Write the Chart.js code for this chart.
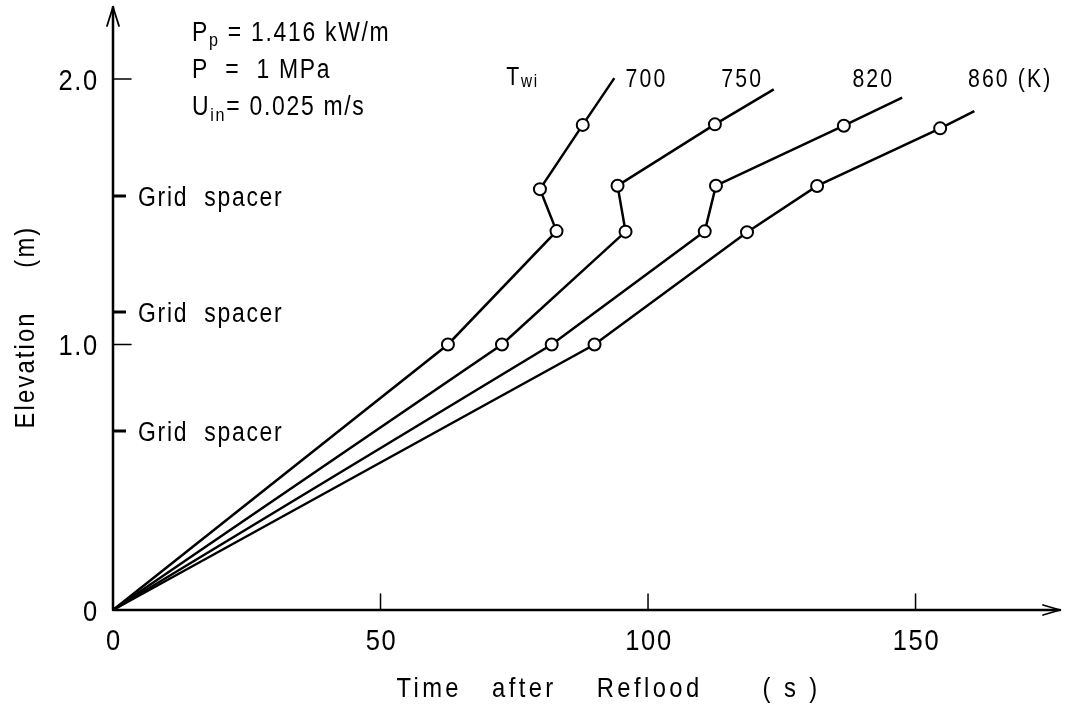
<!DOCTYPE html>
<html><head><meta charset="utf-8">
<script src="https://cdn.jsdelivr.net/npm/chart.js@4.4.0/dist/chart.umd.min.js"></script>
<style>html,body{margin:0;padding:0;background:#fff;}#wrap{width:1076px;height:714px;}</style>
</head><body><div id="wrap"><canvas id="c" width="1076" height="714"></canvas></div>
<script>
// ---- data ----
const seriesNames = ['700', '750', '820', '860 (K)'];
const time700 = [0, 62.6, 82.9, 79.8, 87.8, 93.7];
const elev700 = [0, 1.0, 1.427, 1.585, 1.827, 2.003];
const time750 = [0, 72.7, 95.8, 94.3, 112.5, 123.5];
const elev750 = [0, 1.0, 1.425, 1.598, 1.829, 1.961];
const time820 = [0, 82.0, 110.6, 112.7, 136.6, 147.5];
const elev820 = [0, 1.0, 1.426, 1.598, 1.824, 1.930];
const time860 = [0, 90.0, 118.5, 131.6, 154.6, 161.0];
const elev860 = [0, 1.0, 1.423, 1.597, 1.814, 1.879];
const measuredPoint = [false, true, true, true, true, false];
const xTickValues = [0, 50, 100, 150];
const xTickLabels = ['0', '50', '100', '150'];
const yTickValues = [0, 1, 2];
const yTickLabels = ['0', '1.0', '2.0'];
const gridSpacerElev = [0.674, 1.122, 1.559];
const gridSpacerText = 'Grid  spacer';
const xTitleWords = 'Time   after    Reflood      ( s )';
const yTitleWords = 'Elevation     (m)';
// series label anchors (time, elevation) in data units
const labelTime = [95.8, 113.7, 138.2, 159.8];
const labelElev = [1.97, 1.97, 1.97, 1.97];

const FONT = '"Liberation Sans", Arial, sans-serif';

function measureRuns(ctx, runs, sx, ls) {
  let w = 0;
  for (const r of runs) {
    ctx.save();
    ctx.font = r.size + 'px ' + FONT;
    ctx.letterSpacing = ls + 'px';
    w += ctx.measureText(r.t).width * sx;
    ctx.restore();
  }
  return w;
}
function drawRuns(ctx, runs, x, y, o) {
  const sx = o.sx ?? 0.85, ls = o.ls ?? 2, align = o.align || 'left';
  const w = measureRuns(ctx, runs, sx, ls);
  let cx = align === 'left' ? x : align === 'right' ? x - w : x - w / 2;
  for (const r of runs) {
    ctx.save();
    ctx.font = r.size + 'px ' + FONT;
    ctx.letterSpacing = ls + 'px';
    ctx.fillStyle = '#000';
    ctx.textAlign = 'left';
    ctx.textBaseline = 'alphabetic';
    ctx.translate(cx, y + (r.dy || 0));
    ctx.scale(sx, 1);
    ctx.fillText(r.t, 0, 0);
    const rw = ctx.measureText(r.t).width;
    ctx.restore();
    cx += rw * sx;
  }
}

const axesPlugin = {
  id: 'axesPlugin',
  beforeDatasetsDraw(chart) {
    const {ctx, chartArea: a, scales: {x, y}} = chart;
    const x0 = x.getPixelForValue(0), y0 = y.getPixelForValue(0);
    ctx.save();
    ctx.strokeStyle = '#000';
    ctx.lineCap = 'round';
    ctx.lineJoin = 'round';
    ctx.lineWidth = 2.5;
    ctx.beginPath();
    ctx.moveTo(x0, y0); ctx.lineTo(x0, a.top);
    ctx.moveTo(x0, y0); ctx.lineTo(a.right, y0);
    ctx.stroke();
    ctx.lineWidth = 1.8;
    ctx.beginPath();
    ctx.moveTo(x0 - 6, a.top + 19); ctx.lineTo(x0, a.top); ctx.lineTo(x0 + 6, a.top + 19);
    ctx.moveTo(a.right - 17, y0 - 5); ctx.lineTo(a.right, y0); ctx.lineTo(a.right - 17, y0 + 5);
    ctx.stroke();
    ctx.lineWidth = 1.5;
    ctx.beginPath();
    xTickValues.forEach(v => { if (v === 0) return; const px = x.getPixelForValue(v); ctx.moveTo(px, y0); ctx.lineTo(px, y0 - 16); });
    yTickValues.forEach(v => { if (v === 0) return; const py = y.getPixelForValue(v); ctx.moveTo(x0, py); ctx.lineTo(x0 + 18, py); });
    ctx.stroke();
    ctx.lineWidth = 3;
    ctx.lineCap = 'butt';
    ctx.beginPath();
    gridSpacerElev.forEach(v => { const py = y.getPixelForValue(v); ctx.moveTo(x0, py); ctx.lineTo(x0 + 13, py); });
    ctx.stroke();
    ctx.restore();
  },
  afterDraw(chart) {
    const {ctx, chartArea: a, scales: {x, y}} = chart;
    const x0 = x.getPixelForValue(0), y0 = y.getPixelForValue(0);
    xTickValues.forEach((v, i) => {
      drawRuns(ctx, [{t: xTickLabels[i], size: 30}], x.getPixelForValue(v) + 1, y0 + 40, {align: 'center', sx: 0.85, ls: 2});
    });
    yTickValues.forEach((v, i) => {
      drawRuns(ctx, [{t: yTickLabels[i], size: 30}], x0 - 14, y.getPixelForValue(v) + 11, {align: 'right', sx: 0.85, ls: 2});
    });
    gridSpacerElev.forEach(v => {
      drawRuns(ctx, [{t: gridSpacerText, size: 27}], x0 + 25, y.getPixelForValue(v) + 10, {sx: 0.85, ls: 2});
    });
    const bx = x0 + 79;
    drawRuns(ctx, [{t: 'P', size: 27}, {t: 'p', size: 19, dy: 5}, {t: ' = 1.416 kW/m', size: 27}], bx, 41, {sx: 0.85, ls: 2});
    drawRuns(ctx, [{t: 'P  =  1 MPa', size: 27}], bx, 78, {sx: 0.85, ls: 2});
    drawRuns(ctx, [{t: 'U', size: 27}, {t: 'in', size: 19, dy: 6}, {t: '= 0.025 m/s', size: 27}], bx, 115, {sx: 0.85, ls: 2});
    drawRuns(ctx, [{t: 'T', size: 25}, {t: 'wi', size: 18, dy: 2}], x.getPixelForValue(73.5), y.getPixelForValue(labelElev[0]) - 2, {sx: 0.85, ls: 2});
    seriesNames.forEach((s, i) => {
      drawRuns(ctx, [{t: s, size: 25}], x.getPixelForValue(labelTime[i]), y.getPixelForValue(labelElev[i]), {sx: 0.85, ls: 2.5});
    });
    drawRuns(ctx, [{t: xTitleWords, size: 28}], (a.left + a.right) / 2 + 22, 697, {align: 'center', sx: 0.85, ls: 4});
    ctx.save();
    ctx.translate(24, 327);
    ctx.rotate(-Math.PI / 2);
    drawRuns(ctx, [{t: yTitleWords, size: 28}], 0, 10, {align: 'center', sx: 0.85, ls: 2.5});
    ctx.restore();
  }
};

function mk(times, elevs) {
  return {
    data: times.map((t, i) => ({x: t, y: elevs[i]})),
    borderColor: '#000',
    borderWidth: 2.5,
    tension: 0,
    fill: false,
    clip: false,
    pointRadius: measuredPoint.map(m => m ? 6 : 0),
    pointHoverRadius: measuredPoint.map(m => m ? 6 : 0),
    pointBackgroundColor: '#fff',
    pointBorderColor: '#000',
    pointBorderWidth: 2
  };
}

new Chart(document.getElementById('c'), {
  type: 'line',
  data: {datasets: [mk(time700, elev700), mk(time750, elev750), mk(time820, elev820), mk(time860, elev860)]},
  options: {
    responsive: false,
    animation: false,
    devicePixelRatio: 1,
    layout: {padding: {left: 113, right: 16, top: 7, bottom: 104}},
    plugins: {legend: {display: false}, tooltip: {enabled: false}},
    scales: {
      x: {type: 'linear', display: false, min: 0, max: 177},
      y: {type: 'linear', display: false, min: 0, max: 2.271}
    }
  },
  plugins: [axesPlugin]
});
</script>
</body></html>
